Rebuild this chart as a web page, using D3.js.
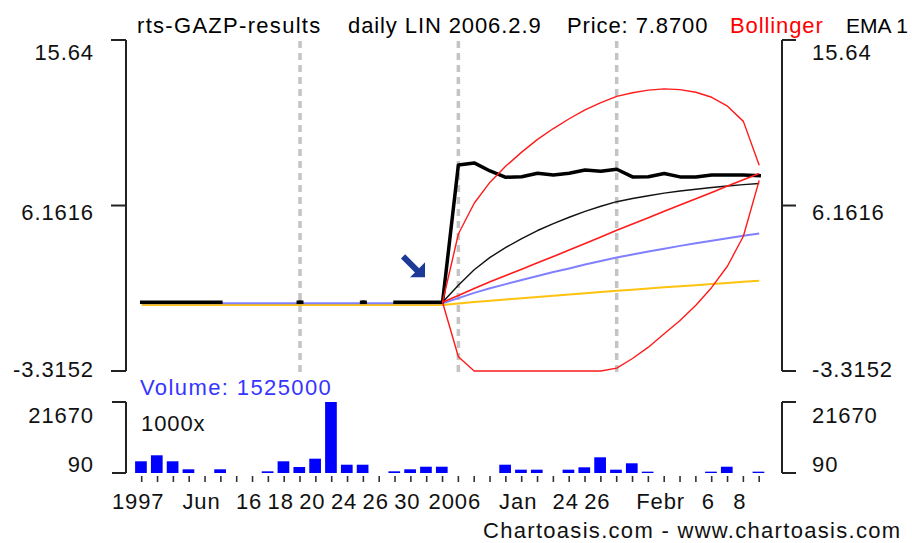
<!DOCTYPE html>
<html><head><meta charset="utf-8">
<script src="https://cdn.jsdelivr.net/npm/d3@7"></script>
<style>
html,body{margin:0;padding:0;background:#fff;}
svg{display:block;font-family:"Liberation Sans",Arial,sans-serif;}
</style></head>
<body><svg id="c" width="912" height="543"></svg>
<script>
// ---------- data ----------
const xLabels = ["1997","","","","Jun","","","16","","18","","20","","24","","26","","30","","",
                 "2006","","","","Jan","","","24","","26","","","","Febr","","","6","","8",""];
const price = [0.62,0.62,0.62,0.62,0.62,0.62,null,null,null,null,0.62,null,null,null,0.62,null,0.62,0.62,0.62,0.62,
               8.48,8.60,8.14,7.78,7.81,8.01,7.91,8.01,8.20,8.12,8.24,7.80,7.81,7.99,7.80,7.79,7.91,7.91,7.91,7.87];
const emaShort = [null,null,null,null,null,null,null,null,null,null,null,null,null,null,null,null,null,null,null,0.62,
               1.60,2.48,3.19,3.76,4.27,4.73,5.13,5.49,5.83,6.12,6.38,6.56,6.72,6.87,6.99,7.09,7.19,7.28,7.36,7.42];
const emaMid = [0.56,0.56,0.56,0.56,0.56,0.56,0.56,0.56,0.56,0.56,0.56,0.56,0.56,0.56,0.56,0.56,0.56,0.56,0.56,0.56,
               0.86,1.16,1.42,1.66,1.90,2.13,2.35,2.56,2.78,2.98,3.18,3.36,3.53,3.69,3.85,4.00,4.15,4.29,4.43,4.56];
const emaLong = [0.47,0.47,0.47,0.47,0.47,0.47,0.47,0.47,0.47,0.47,0.47,0.47,0.47,0.47,0.47,0.47,0.47,0.47,0.47,0.47,
               0.55,0.63,0.71,0.78,0.85,0.92,0.99,1.06,1.14,1.21,1.28,1.34,1.41,1.48,1.54,1.60,1.67,1.73,1.79,1.85];
const bollMid = [null,null,null,null,null,null,null,null,null,null,null,null,null,null,null,null,null,null,null,0.62,
               1.01,1.41,1.79,2.15,2.51,2.88,3.24,3.61,3.99,4.36,4.74,5.10,5.46,5.83,6.19,6.55,6.91,7.28,7.64,8.00];
const bollUpper = [null,null,null,null,null,null,null,null,null,null,null,null,null,null,null,null,null,null,null,0.62,
               4.53,6.29,7.50,8.42,9.22,9.95,10.57,11.13,11.64,12.05,12.41,12.62,12.77,12.84,12.80,12.65,12.36,11.85,10.98,8.47];
const bollLower = [null,null,null,null,null,null,null,null,null,null,null,null,null,null,null,null,null,null,null,0.62,
               -2.50,-3.46,-3.92,-4.12,-4.20,-4.20,-4.09,-3.91,-3.66,-3.40,-3.15,-2.60,-1.95,-1.18,-0.42,0.45,1.47,2.70,4.40,7.60];
const volume = [3650,5470,3650,1215,0,1215,0,0,600,3650,1910,4440,21670,2610,2610,0,600,1215,2000,2000,
                0,0,0,2610,1100,1100,0,1100,1820,4860,1100,3040,500,0,0,0,500,2000,0,500];
const priceTicks = [15.64, 6.1616, -3.3152];
const priceTickLabels = ["15.64","6.1616","-3.3152"];
const volTicks = [21670, 90];
const volTickLabels = ["21670","90"];
const gridIdx = [10,20,30];
const titleParts = [
  {t:"rts-GAZP-results", c:"#000"},
  {t:"daily LIN 2006.2.9", c:"#000"},
  {t:"Price: 7.8700", c:"#000"},
  {t:"Bollinger", c:"#ff0000"},
  {t:"EMA 1", c:"#000"}
];

// ---------- drawing ----------
const svg = d3.select("#c");
const FS = 22, LS = 0.9;
const idx = d3.range(xLabels.length);
const x = d3.scaleLinear().domain([0, 39]).range([141.7, 759.2]);
const y = d3.scaleLinear().domain([-3.3152, 15.64]).range([371, 40]).clamp(true);
const yv = d3.scaleLinear().domain([90, 21670]).range([473, 402]).clamp(true);
const axL = 126, axR = 782;

function txt(g, s, px, py, anchor, color, size, ls) {
  return g.append("text").attr("x", px).attr("y", py).text(s)
    .attr("text-anchor", anchor || "start")
    .attr("fill", color || "#111")
    .attr("font-size", size || FS)
    .attr("letter-spacing", ls == null ? LS : ls);
}

// title
const titleX = [137, 348, 567, 730, 846];
const titleLS = [1.3, 0.9, 0.9, 0.9, 0];
const titleFS = [22, 22, 22, 22, 21];
titleParts.forEach((p, i) => txt(svg, p.t, titleX[i], 33, "start", p.c, titleFS[i], titleLS[i]));

// gridlines
svg.append("g").selectAll("line").data(gridIdx).join("line")
  .attr("x1", d => x(d)).attr("x2", d => x(d))
  .attr("y1", 41).attr("y2", 372)
  .attr("stroke", "#c4c4c4").attr("stroke-width", 3.5)
  .attr("stroke-dasharray", "7,5");

// price axes (brackets)
const ax = svg.append("g").attr("stroke", "#222").attr("stroke-width", 2).attr("fill", "none");
ax.append("line").attr("x1", axL).attr("x2", axL).attr("y1", y(priceTicks[0])).attr("y2", y(priceTicks[2]));
ax.append("line").attr("x1", axR).attr("x2", axR).attr("y1", y(priceTicks[0])).attr("y2", y(priceTicks[2]));
priceTicks.forEach(v => {
  ax.append("line").attr("x1", axL - 15).attr("x2", axL).attr("y1", y(v)).attr("y2", y(v));
  ax.append("line").attr("x1", axR).attr("x2", axR + 14).attr("y1", y(v)).attr("y2", y(v));
});
const labOffsets = [20, 14, 6];
priceTickLabels.forEach((s, i) => {
  txt(svg, s, 94, y(priceTicks[i]) + labOffsets[i], "end");
  txt(svg, s, 812, y(priceTicks[i]) + labOffsets[i], "start");
});

// volume axes (brackets)
ax.append("line").attr("x1", axL).attr("x2", axL).attr("y1", yv(volTicks[0])).attr("y2", yv(volTicks[1]));
ax.append("line").attr("x1", axR).attr("x2", axR).attr("y1", yv(volTicks[0])).attr("y2", yv(volTicks[1]));
volTicks.forEach(v => {
  ax.append("line").attr("x1", axL - 14).attr("x2", axL).attr("y1", yv(v)).attr("y2", yv(v));
  ax.append("line").attr("x1", axR).attr("x2", axR + 14).attr("y1", yv(v)).attr("y2", yv(v));
});
const vOff = [21, -1];
volTickLabels.forEach((s, i) => {
  txt(svg, s, 94, yv(volTicks[i]) + vOff[i], "end");
  txt(svg, s, 812, yv(volTicks[i]) + vOff[i], "start");
});

// lines
function drawLine(data, color, width, cap) {
  const gen = d3.line().defined(d => d != null).x((d, i) => x(i)).y(d => y(d));
  svg.append("path").datum(data).attr("d", gen)
    .attr("fill", "none").attr("stroke", color).attr("stroke-width", width)
    .attr("stroke-linejoin", "round").attr("stroke-linecap", cap || "butt");
}
drawLine(emaLong, "#ffc20e", 2);
drawLine(emaMid, "#8080ff", 2);
drawLine(emaShort, "#111", 1.4);
drawLine(price, "#000", 3.5, "square");
// isolated price points shown as short dashes
const iso = idx.filter(i => price[i] != null && price[i - 1] == null && price[i + 1] == null && i > 0 && i < 39);
svg.append("g").selectAll("line").data(iso).join("line")
  .attr("x1", i => x(i) - 3.5).attr("x2", i => x(i) + 3.5)
  .attr("y1", i => y(price[i])).attr("y2", i => y(price[i]))
  .attr("stroke", "#000").attr("stroke-width", 3.5);
drawLine(bollMid, "#ff1a1a", 1.6);
drawLine(bollUpper, "#ff1a1a", 1.4);
drawLine(bollLower, "#ff1a1a", 1.4);

// arrow annotation pointing at the jump
const tx = x(19) - 17.5, ty = y(price[19]) - 25;
const arrowPts = [[0,0],[-15,0],[-10.1,-4.9],[-24.1,-18.9],[-19.9,-23.1],[-5.9,-9.1],[0,-15]];
svg.append("polygon").attr("points", arrowPts.map(p => [tx + p[0], ty + p[1]].join(",")).join(" "))
  .attr("fill", "#1c3a96");

// volume bars
svg.append("g").selectAll("rect").data(idx.filter(i => volume[i] > 90)).join("rect")
  .attr("x", i => x(i) - 6.6).attr("width", 11.7)
  .attr("y", i => yv(volume[i])).attr("height", i => yv(90) - yv(volume[i]))
  .attr("fill", "#0000ff");
txt(svg, "Volume: 1525000", 140, 395, "start", "#3535ff", FS, 1.4);
txt(svg, "1000x", 141, 431, "start", "#111");

// x ticks and labels
svg.append("g").selectAll("line").data(idx).join("line")
  .attr("x1", i => x(i)).attr("x2", i => x(i)).attr("y1", 476).attr("y2", 482)
  .attr("stroke", "#333").attr("stroke-width", 1.6);
svg.append("g").selectAll("text").data(idx.filter(i => xLabels[i] !== "")).join("text")
  .attr("x", i => x(i) - 3.5).attr("y", 509).attr("text-anchor", "middle")
  .attr("font-size", FS).attr("letter-spacing", LS).attr("fill", "#111")
  .text(i => xLabels[i]);

// credit
txt(svg, "Chartoasis.com - www.chartoasis.com", 483, 538, "start", "#111", FS, 1.3);
</script></body></html>
